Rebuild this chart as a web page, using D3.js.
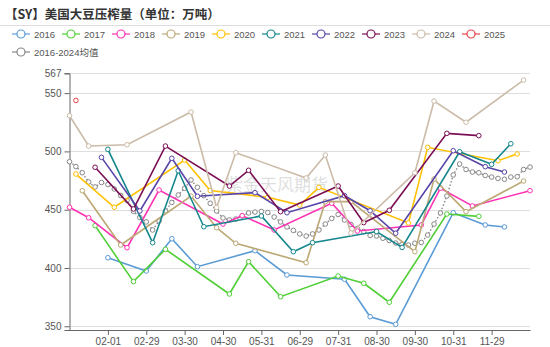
<!DOCTYPE html>
<html><head><meta charset="utf-8">
<script src="https://cdn.jsdelivr.net/npm/d3@7"></script>
<style>body{margin:0;background:#fff;}svg{display:block;font-family:"Liberation Sans","Noto Sans CJK SC",sans-serif;}</style>
</head><body><svg id="c" width="550" height="347"></svg>
<script>
const title = "【SY】美国大豆压榨量（单位：万吨）";
const xTickIdx = [6,12,18,24,30,36,42,48,54,60,66];
const xTickLabels = ["02-01","02-29","03-30","04-30","05-31","06-29","07-31","08-30","09-30","10-31","11-29"];
const yTicks = [350,400,450,500,550,567];
const seriesNames = ["2016","2017","2018","2019","2020","2021","2022","2023","2024","2025","2016-2024均值"];
const seriesColors = ["#5b9bd5","#4fcf35","#ff33b4","#bca874","#ffc000","#14868c","#5845a8","#7b0f55","#cbbba8","#e8424a","#888888"];

const s2016 = [[6,408.8],[12,397.4],[16,425.1],[20,401.1],[29,414.8],[34,394],[43,390.3],[47,358.2],[51,351.7],[60,447.4],[65,436.9],[68,435.2]];
const s2017 = [[4,436.3],[10,388.3],[15,416],[25,377.7],[28,405.4],[33,375.4],[42,393.1],[46,386.9],[50,370.6],[59,446.3],[64,444.3]];
const s2018 = [[0,452.1],[3,443.1],[9,417.4],[14,466.9],[24,437.7],[27,444.9],[32,432.6],[41,455.5],[45,431.7],[55,436.9],[58,468.4],[63,453.2],[72,466.3]];
const s2019 = [[2,466.3],[8,419.7],[19,461.7],[23,434.6],[26,421.2],[37,404.5],[40,456.9],[44,456.9],[54,414],[57,476.3],[62,448.3],[71,474.6]];
const s2020 = [[1,480.6],[7,452.1],[18,492.6],[22,466.5],[31,460.6],[36,454],[39,469.2],[53,438.6],[56,503.5],[67,492],[70,497.8]];
const s2021 = [[6,501.8],[13,421.7],[17,483.4],[21,435.4],[30,444.6],[35,414],[38,421.7],[48,431.3],[52,417.6],[61,499.7],[66,488.9],[69,506.6]];
const s2022 = [[5,494.9],[11,448.9],[16,494.1],[20,461.5],[29,464.6],[34,447.4],[43,462],[47,449.1],[51,429.8],[60,500.6],[65,486.9],[68,482.3]];
const s2023 = [[4,486.4],[10,450.6],[15,504.6],[25,470.3],[28,483.8],[33,448.3],[42,470.3],[46,438.9],[50,449.5],[59,515.5],[64,513.5]];
const s2024 = [[0,530.6],[3,504.6],[9,505.7],[19,533.8],[23,451.9],[26,498.9],[37,477.2],[40,496.9],[44,430],[54,481.7],[57,543.2],[62,525],[71,561.2]];
const s2025 = [[1,543.7]];
const avgIdx = [0,1,2,3,4,5,6,7,8,9,10,11,12,13,14,15,16,17,18,19,20,21,22,23,24,25,26,27,28,29,30,31,32,33,34,35,36,37,38,39,40,41,42,43,44,45,46,47,48,49,50,51,52,53,54,55,56,57,58,59,60,61,62,63,64,65,66,67,68,69,70,71,72];
const avgVals = [491.2,487.0,481.7,473.8,469.5,473.3,471.6,467.8,462.2,457.9,448.6,443.3,439.5,432.6,440.3,448.9,456.2,462.6,468.4,475.5,469.2,462,455.5,448.9,442.9,441.2,442,444.6,447.2,448,448.5,447.6,443.7,439.5,435.2,432.2,429.2,427.4,429.2,432.6,437.7,442.5,445.9,441.2,437.3,433.9,431.3,427.9,427.4,425.5,423.6,421.4,420.3,419.7,421.2,421.9,428.3,437.7,447.2,461.7,479.8,489.2,484.5,482.3,481.7,479.3,478,476.8,476.1,478,478.3,484.5,486.6];

const allSeries = [s2016,s2017,s2018,s2019,s2020,s2021,s2022,s2023,s2024,s2025,avgIdx.map((d,i)=>[d,avgVals[i]])];

const svg = d3.select("#c");
const L=69.5, R=530, T=73.3, B=330;
const x = d3.scaleLinear().domain([0,72]).range([L,R]);
const y = d3.scaleLinear().domain([346.8,567]).range([B,T]);

// title
svg.append("text").attr("x",5).attr("y",19).attr("font-size",12.5).attr("font-weight","bold").attr("fill","#333")
  .attr("font-family","'Noto Sans CJK SC',sans-serif").text(title);
svg.append("line").attr("x1",0).attr("x2",550).attr("y1",25.5).attr("y2",25.5).attr("stroke","#ddd").attr("stroke-width",1);

// legend
seriesNames.forEach((n,i)=>{
  const row = i<10?0:1, col = i<10?i:0;
  const gx = 12 + col*50, gy = row===0?34:52;
  const g = svg.append("g");
  g.append("line").attr("x1",gx).attr("x2",gx+18).attr("y1",gy).attr("y2",gy).attr("stroke",seriesColors[i]).attr("stroke-width",1.2);
  g.append("circle").attr("cx",gx+9).attr("cy",gy).attr("r",4).attr("fill","#fff").attr("stroke",seriesColors[i]).attr("stroke-width",1.2);
  g.append("text").attr("x",gx+22).attr("y",gy+3.5).attr("font-size",9.5).attr("fill","#555")
   .attr("font-family","'Liberation Sans','Noto Sans CJK SC',sans-serif").text(n);
});

// grid
svg.append("g").selectAll("line").data(yTicks).join("line")
  .attr("x1",L).attr("x2",R).attr("y1",d=>Math.round(y(d))+0.5).attr("y2",d=>Math.round(y(d))+0.5)
  .attr("stroke","#dedede").attr("stroke-width",1);

// axes
const yAxis = d3.axisLeft(y).tickValues(yTicks).tickSize(5).tickPadding(3);
const gy = svg.append("g").attr("transform",`translate(${L},0)`).call(yAxis);
gy.select(".domain").attr("stroke","#666");
gy.selectAll(".tick line").attr("stroke","#666");
gy.selectAll("text").attr("font-size",10).attr("fill","#555").attr("font-family","'Liberation Sans',sans-serif");

const xAxis = d3.axisBottom(x).tickValues(xTickIdx).tickFormat((d,i)=>xTickLabels[i]).tickSize(5).tickSizeOuter(0).tickPadding(3);
const gx = svg.append("g").attr("transform",`translate(0,${B})`).call(xAxis);
gx.select(".domain").attr("stroke","#666");
gx.selectAll(".tick line").attr("stroke","#666");
gx.selectAll("text").attr("font-size",10).attr("fill","#555").attr("font-family","'Liberation Sans',sans-serif");

// watermark
svg.append("text").attr("x",277).attr("y",191).attr("text-anchor","middle").attr("font-size",17)
  .attr("fill","rgba(160,160,160,0.35)").attr("font-family","'Noto Sans CJK SC',sans-serif").text("紫金天风期货");

// lines
const line = d3.line().x(d=>x(d[0])).y(d=>y(d[1]));
const order = [10,0,1,2,3,4,5,6,7,8,9];
order.forEach(i=>{
  const data = allSeries[i];
  const g = svg.append("g");
  g.append("path").datum(data).attr("d",line).attr("fill","none").attr("stroke",seriesColors[i])
   .attr("stroke-width", i===10?1.4:1.6).attr("stroke-dasharray", i===10?"1.5,2":null);
  g.selectAll("circle").data(data).join("circle").attr("cx",d=>x(d[0])).attr("cy",d=>y(d[1]))
   .attr("r", 2.3).attr("fill","#fff").attr("stroke",seriesColors[i]).attr("stroke-width",1);
});
</script></body></html>
